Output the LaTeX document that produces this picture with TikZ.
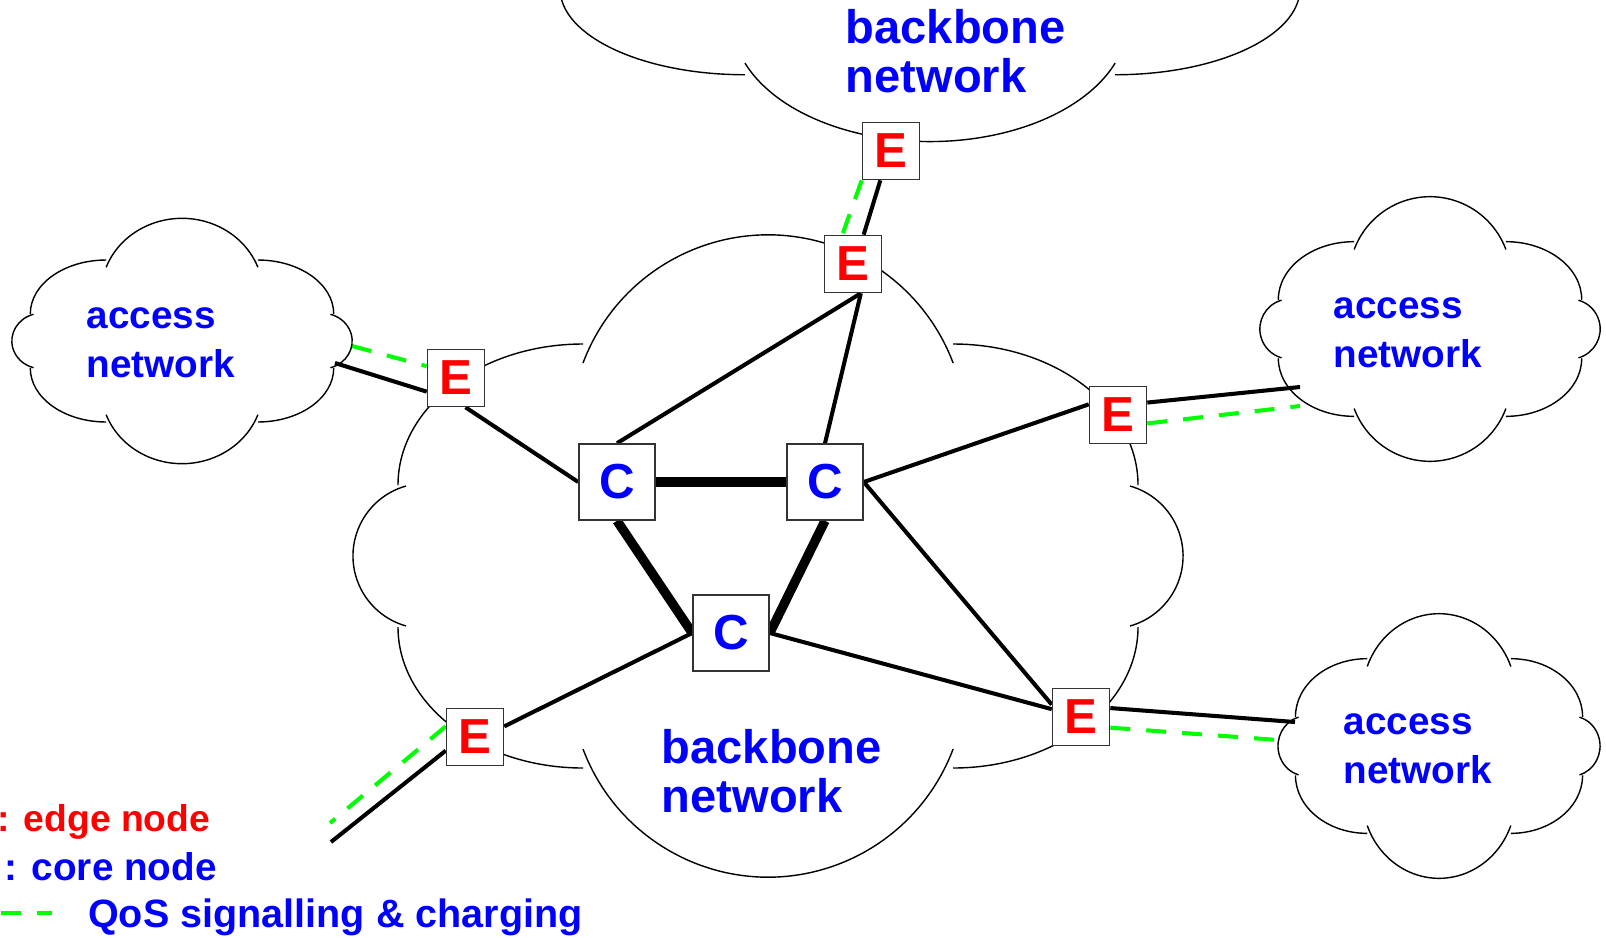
\documentclass[tikz,border=0pt]{standalone}
\usepackage{fontspec}
\setmainfont{Liberation Sans}
\usetikzlibrary{backgrounds}

\begin{document}
\begin{tikzpicture}[
  font=\bfseries,
  lobe/.style={draw, thin},
  ebox/.style={rectangle, draw=black!80, line width=0.45pt, fill=white,
               minimum size=0.57cm, inner sep=0pt, text=red,
               font=\bfseries\fontsize{14}{14}\selectfont},
  cbox/.style={ebox, minimum size=0.76cm, text=blue},
  link/.style={line width=1.15pt},
  trunk/.style={line width=2.65pt},
  qos/.style={green, line width=1.15pt, dash pattern=on 0.2cm off 0.16cm},
  netlabel/.style={text=blue, align=left, inner sep=0pt, anchor=base west,
                   font=\bfseries\fontsize{11}{13.9}\selectfont},
  bblabel/.style={netlabel, font=\bfseries\fontsize{13.4}{13.7}\selectfont},
  legendtext/.style={inner sep=0pt, anchor=base west,
                     font=\bfseries\fontsize{11}{13}\selectfont},
  netcloud/.pic={
    % top and bottom lobes
    \draw[lobe] (-1.85,1.93) arc[start angle=159.4, end angle=20.6, radius=1.977];
    \draw[lobe] (-1.85,-1.93) arc[start angle=200.6, end angle=339.4, radius=1.977];
    % side lobes
    \draw[lobe] (-3.62,0.70) arc[start angle=105.7, end angle=254.3, radius=0.727];
    \draw[lobe] (3.62,-0.70) arc[start angle=-74.3, end angle=74.3, radius=0.727];
    % corner lobes
    \draw[lobe] (1.85,2.12) arc[start angle=90, end angle=0, x radius=1.85, y radius=1.41];
    \draw[lobe] (-1.85,2.12) arc[start angle=90, end angle=180, x radius=1.85, y radius=1.41];
    \draw[lobe] (-3.70,-0.71) arc[start angle=180, end angle=270, x radius=1.85, y radius=1.41];
    \draw[lobe] (1.85,-2.12) arc[start angle=270, end angle=360, x radius=1.85, y radius=1.41];
  },
  ]
  \useasboundingbox (0,0) rectangle (16.06,9.37);

  %% Clouds: backbone (centre, top), access networks (left, right)
  \pic at (7.68,3.81) {netcloud};
  \pic[yscale=0.612] at (9.30,9.92) {netcloud};
  \pic[xscale=0.41, yscale=0.382] at (1.82,5.96) {netcloud};
  \pic[xscale=0.41, yscale=0.412] at (14.30,6.08) {netcloud};
  \pic[xscale=0.388, yscale=0.412] at (14.39,1.91) {netcloud};

  %% Edge and core nodes
  \node[ebox] (etop) at (8.91,7.86) {E};
  \node[ebox] (eup)  at (8.53,6.73) {E};
  \node[ebox] (el)   at (4.56,5.59) {E};
  \node[ebox] (er)   at (11.18,5.22) {E};
  \node[ebox] (elr)  at (10.81,2.20) {E};
  \node[ebox] (ell)  at (4.75,2.00) {E};
  \node[cbox] (cl)   at (6.17,4.55) {C};
  \node[cbox] (cr)   at (8.25,4.55) {C};
  \node[cbox] (cb)   at (7.31,3.04) {C};

  % free ends inside the access clouds and off to the lower left
  \coordinate (al-link)  at (3.35,5.74);
  \coordinate (al-qos)   at (3.52,5.91);
  \coordinate (ar-link)  at (13.00,5.50);
  \coordinate (ar-qos)   at (13.00,5.31);
  \coordinate (ab-link)  at (12.95,2.15);
  \coordinate (ab-qos)   at (12.78,1.97);
  \coordinate (out-link) at (3.31,0.95);
  \coordinate (out-qos)  at (3.30,1.14);

  %% Links (behind the boxes)
  \begin{scope}[on background layer]
    % core triangle
    \draw[trunk] (cl.east)  -- (cr.west);
    \draw[trunk] (cl.south) -- (cb.west);
    \draw[trunk] (cr.south) -- (cb.east);
    % edge to core
    \draw[link] (etop.250) -- (eup.70);
    \draw[link] (eup.-75)  -- (cl.north);
    \draw[link] (eup.-75)  -- (cr.north);
    \draw[link] (el.-72)   -- (cl.west);
    \draw[link] (er.160)   -- (cr.east);
    \draw[link] (elr.157)  -- (cr.east);
    \draw[link] (elr.165)  -- (cb.east);
    \draw[link] (ell.20)   -- (cb.west);
    % edge to access
    \draw[link] (al-link)  -- (el.205);
    \draw[link] (er.23)    -- (ar-link);
    \draw[link] (elr.17)   -- (ab-link);
    \draw[link] (ell.205)  -- (out-link);
    % QoS signalling
    \draw[qos] (etop.south west) -- (eup.110);
    \draw[qos] (al-qos)  -- (el.158);
    \draw[qos] (er.-16)  -- (ar-qos);
    \draw[qos] (elr.-20) -- (ab-qos);
    \draw[qos] (ell.160) -- (out-qos);
  \end{scope}

  %% Cloud labels (base = last line)
  \node[netlabel] (al-text) at (0.86,5.60)  {access\\network};
  \node[netlabel] (ar-text) at (13.33,5.70) {access\\network};
  \node[netlabel] (ab-text) at (13.43,1.54) {access\\network};
  \node[bblabel]  (bb-text) at (6.61,1.25)  {backbone\\network};
  \node[bblabel]  (bt-text) at (8.45,8.45)  {backbone\\network};

  %% Legend
  \node[legendtext, text=red, font=\bfseries\fontsize{10.6}{13}\selectfont]
       (lg-edge) at (-0.03,1.055) {: edge node};
  \node[legendtext, text=blue] (lg-core) at (0.04,0.57) {: core node};
  \node[legendtext, text=blue, font=\bfseries\fontsize{11.25}{13}\selectfont]
       (lg-qos) at (0.875,0.10) {QoS signalling \& charging};
  \draw[qos] (0.01,0.24) -- (0.52,0.24);
\end{tikzpicture}
\end{document}
